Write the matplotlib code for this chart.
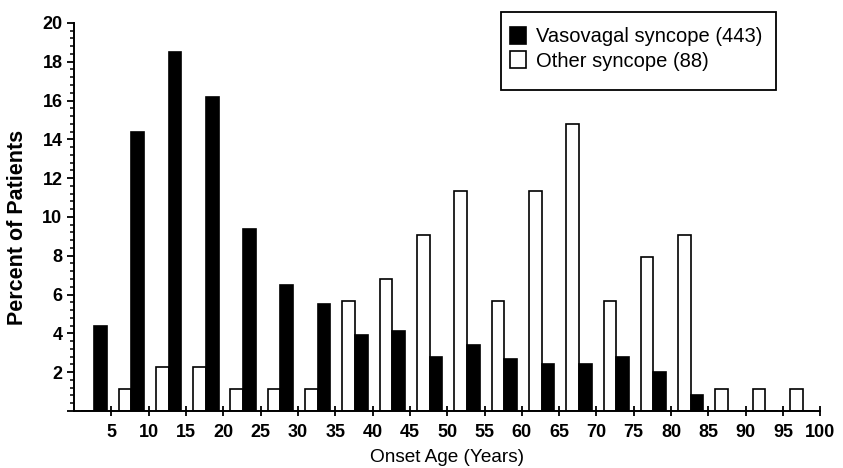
import matplotlib
matplotlib.use("Agg")
import matplotlib.pyplot as plt
from matplotlib.patches import Rectangle
from matplotlib.ticker import MultipleLocator
import numpy as np

plt.rcParams["font.family"] = ["Liberation Sans", "DejaVu Sans"]

# 5-year onset-age bins (start of each bin)
bin_start = np.arange(0, 100, 5)
vasovagal = [4.4, 14.4, 18.5, 16.2, 9.4, 6.5, 5.5, 3.9, 4.1, 2.8,
             3.4, 2.7, 2.4, 2.4, 2.8, 2.0, 0.8, 0.0, 0.0, 0.0]
other = [0.0, 1.14, 2.27, 2.27, 1.14, 1.14, 1.14, 5.68, 6.82, 9.09,
         11.36, 5.68, 11.36, 14.77, 5.68, 7.95, 9.09, 1.14, 1.14, 1.14]
xticks = list(range(5, 105, 5))
yticks = list(range(0, 22, 2))
ylabels = [""] + [str(v) for v in yticks[1:]]

W, H = 843, 468
fig = plt.figure(figsize=(W / 100, H / 100), dpi=100)
ax = fig.add_axes([0.088, 0.122, 0.885, 0.829])

w = 1.7
ax.bar(bin_start + 1.8, other, width=w, color="white", edgecolor="black",
       linewidth=1.2, label="Other syncope (88)")
ax.bar(bin_start + 3.5, vasovagal, width=w, color="black", edgecolor="black",
       linewidth=1.2, label="Vasovagal syncope (443)")

ax.set_xlim(0, 100)
ax.set_ylim(0, 20)
ax.set_xticks(xticks)
ax.set_yticks(yticks)
ax.set_yticklabels(ylabels, fontweight="bold")
ax.set_xticklabels([str(v) for v in xticks], fontweight="bold")
ax.yaxis.set_minor_locator(MultipleLocator(0.4))
ax.tick_params(axis="y", which="major", direction="out", length=5, width=1.3,
               labelsize=13)
ax.tick_params(axis="y", which="minor", direction="out", length=3, width=1.1)
ax.tick_params(axis="x", which="major", direction="inout", length=7, width=1.3,
               labelsize=13, pad=6)
for s in ("top", "right"):
    ax.spines[s].set_visible(False)
for s in ("left", "bottom"):
    ax.spines[s].set_linewidth(1.4)

ax.set_xlabel("Onset Age (Years)", fontsize=13.7, labelpad=6)
ax.set_ylabel("Percent of Patients", fontsize=15.5, fontweight="bold")
ax.yaxis.set_label_coords(-0.062, 0.472)

# legend entries without frame, box drawn separately
handles, labels = ax.get_legend_handles_labels()
ax.legend(handles[::-1], labels[::-1], loc="upper left",
          bbox_to_anchor=(501 / W, 1 - 18 / H),
          bbox_transform=fig.transFigure, fontsize=14.5, frameon=False,
          handlelength=0.8, handleheight=0.9, handletextpad=0.5,
          borderpad=0.45, labelspacing=0.25, borderaxespad=0)
fig.patches.append(Rectangle((501 / W, 1 - 90 / H), 275 / W, 78 / H,
                             transform=fig.transFigure, fill=False,
                             edgecolor="black", linewidth=1.3))

fig.savefig("out.png", dpi=100)
